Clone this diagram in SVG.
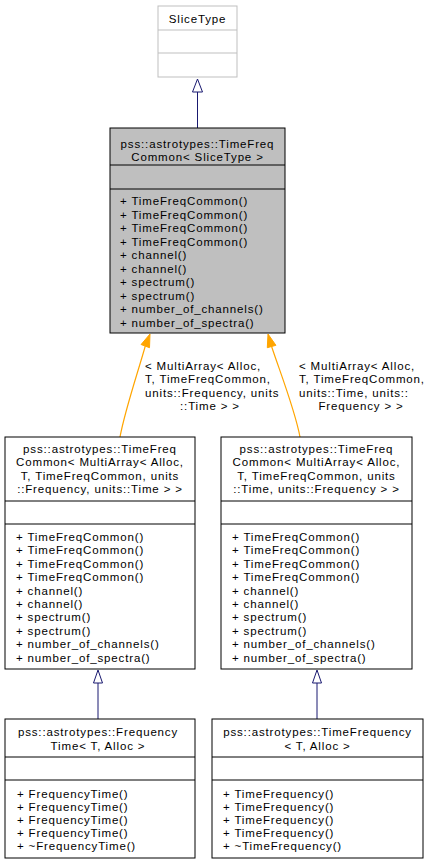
<svg xmlns="http://www.w3.org/2000/svg" width="432" height="864" viewBox="0 0 432 864">
<style>
text{font-family:"Liberation Sans",Arial,sans-serif;font-size:11.5px;letter-spacing:0.85px;fill:#000}
.c{text-anchor:middle}
.box{fill:#fff;stroke:#000;stroke-width:1}
.gray{fill:#bfbfbf;stroke:#000;stroke-width:1}
.ghost{fill:#fff;stroke:#bfbfbf;stroke-width:1}
.ln{stroke:#000;stroke-width:1}
.lg{stroke:#bfbfbf;stroke-width:1}
.inh{fill:none;stroke:#191970;stroke-width:1}
.tri{fill:#fff;stroke:#191970;stroke-width:1}
.tpl{fill:none;stroke:#ffa500;stroke-width:1.2}
.tplh{fill:#ffa500;stroke:#ffa500;stroke-width:1}
</style>
<rect width="432" height="864" fill="#fff"/>
<g id="connectors">
<path class="inh" d="M197.5,92 V128"/>
<polygon class="tri" points="197.5,79 192.5,92 202.5,92"/>
<path class="tpl" d="M120,437 C125,410 138,372 145.3,346"/>
<polygon class="tplh" points="150,334 141.1,344.5 149.5,347.7"/>
<path class="tpl" d="M300,437 C295,410 280,372 271.6,346.5"/>
<polygon class="tplh" points="268,334 267.3,347.7 275.9,345.3"/>
<text x="145" y="369.5">&lt; MultiArray&lt; Alloc,</text>
<text x="145" y="383">T, TimeFreqCommon,</text>
<text x="145" y="396.5">units::Frequency, units</text>
<text class="c" x="210" y="410">::Time &gt; &gt;</text>
<text x="299" y="369.5">&lt; MultiArray&lt; Alloc,</text>
<text x="299" y="383">T, TimeFreqCommon,</text>
<text x="299" y="396.5">units::Time, units::</text>
<text class="c" x="361" y="410">Frequency &gt; &gt;</text>
<path class="inh" d="M98,683 V719"/>
<polygon class="tri" points="98,670 93.5,683 102.5,683"/>
<path class="inh" d="M317,683 V719"/>
<polygon class="tri" points="317,670 312.5,683 321.5,683"/>
</g>
<g id="node-slicetype">
<rect class="ghost" x="158" y="6" width="79" height="71"/>
<line class="lg" x1="158" y1="30" x2="237" y2="30"/>
<line class="lg" x1="158" y1="53" x2="237" y2="53"/>
<text class="c" x="197.5" y="22.5">SliceType</text>
</g>
<g id="node-timefreqcommon">
<rect class="gray" x="110" y="128" width="175" height="205"/>
<line class="ln" x1="110" y1="165" x2="285" y2="165"/>
<line class="ln" x1="110" y1="189" x2="285" y2="189"/>
<text class="c" x="197.5" y="147.5">pss::astrotypes::TimeFreq</text>
<text class="c" x="197.5" y="161">Common&lt; SliceType &gt;</text>
<text x="120" y="205">+ TimeFreqCommon()</text>
<text x="120" y="218.5">+ TimeFreqCommon()</text>
<text x="120" y="232">+ TimeFreqCommon()</text>
<text x="120" y="245.5">+ TimeFreqCommon()</text>
<text x="120" y="259">+ channel()</text>
<text x="120" y="272.5">+ channel()</text>
<text x="120" y="286">+ spectrum()</text>
<text x="120" y="299.5">+ spectrum()</text>
<text x="120" y="313">+ number_of_channels()</text>
<text x="120" y="326.5">+ number_of_spectra()</text>
</g>
<g id="node-tfc-freqtime">
<rect class="box" x="5" y="437" width="190" height="232"/>
<line class="ln" x1="5" y1="501" x2="195" y2="501"/>
<line class="ln" x1="5" y1="524" x2="195" y2="524"/>
<text class="c" x="100" y="452.5">pss::astrotypes::TimeFreq</text>
<text class="c" x="100" y="466">Common&lt; MultiArray&lt; Alloc,</text>
<text class="c" x="100" y="479.5">T, TimeFreqCommon, units</text>
<text class="c" x="100" y="493">::Frequency, units::Time &gt; &gt;</text>
<text x="16" y="541">+ TimeFreqCommon()</text>
<text x="16" y="554.4">+ TimeFreqCommon()</text>
<text x="16" y="567.8">+ TimeFreqCommon()</text>
<text x="16" y="581.2">+ TimeFreqCommon()</text>
<text x="16" y="594.6">+ channel()</text>
<text x="16" y="608">+ channel()</text>
<text x="16" y="621.4">+ spectrum()</text>
<text x="16" y="634.8">+ spectrum()</text>
<text x="16" y="648.2">+ number_of_channels()</text>
<text x="16" y="661.6">+ number_of_spectra()</text>
</g>
<g id="node-tfc-timefreq">
<rect class="box" x="221" y="437" width="191" height="232"/>
<line class="ln" x1="221" y1="501" x2="412" y2="501"/>
<line class="ln" x1="221" y1="524" x2="412" y2="524"/>
<text class="c" x="316.5" y="452.5">pss::astrotypes::TimeFreq</text>
<text class="c" x="316.5" y="466">Common&lt; MultiArray&lt; Alloc,</text>
<text class="c" x="316.5" y="479.5">T, TimeFreqCommon, units</text>
<text class="c" x="316.5" y="493">::Time, units::Frequency &gt; &gt;</text>
<text x="232" y="541">+ TimeFreqCommon()</text>
<text x="232" y="554.4">+ TimeFreqCommon()</text>
<text x="232" y="567.8">+ TimeFreqCommon()</text>
<text x="232" y="581.2">+ TimeFreqCommon()</text>
<text x="232" y="594.6">+ channel()</text>
<text x="232" y="608">+ channel()</text>
<text x="232" y="621.4">+ spectrum()</text>
<text x="232" y="634.8">+ spectrum()</text>
<text x="232" y="648.2">+ number_of_channels()</text>
<text x="232" y="661.6">+ number_of_spectra()</text>
</g>
<g id="node-frequencytime">
<rect class="box" x="5" y="719" width="190" height="139"/>
<line class="ln" x1="5" y1="757" x2="195" y2="757"/>
<line class="ln" x1="5" y1="780" x2="195" y2="780"/>
<text class="c" x="98" y="736">pss::astrotypes::Frequency</text>
<text class="c" x="98" y="749.5">Time&lt; T, Alloc &gt;</text>
<text x="17" y="797.5">+ FrequencyTime()</text>
<text x="17" y="810.5">+ FrequencyTime()</text>
<text x="17" y="823.5">+ FrequencyTime()</text>
<text x="17" y="836.5">+ FrequencyTime()</text>
<text x="17" y="849.5">+ ~FrequencyTime()</text>
</g>
<g id="node-timefrequency">
<rect class="box" x="212" y="719" width="211" height="139"/>
<line class="ln" x1="212" y1="757" x2="423" y2="757"/>
<line class="ln" x1="212" y1="780" x2="423" y2="780"/>
<text class="c" x="317.5" y="736">pss::astrotypes::TimeFrequency</text>
<text class="c" x="317.5" y="749.5">&lt; T, Alloc &gt;</text>
<text x="223" y="797.5">+ TimeFrequency()</text>
<text x="223" y="810.5">+ TimeFrequency()</text>
<text x="223" y="823.5">+ TimeFrequency()</text>
<text x="223" y="836.5">+ TimeFrequency()</text>
<text x="223" y="849.5">+ ~TimeFrequency()</text>
</g>
</svg>
